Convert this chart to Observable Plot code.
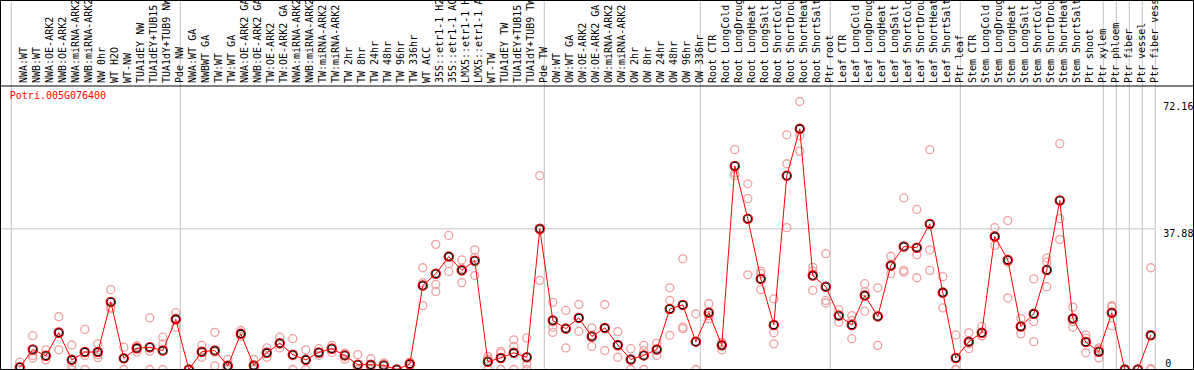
<!DOCTYPE html>
<html>
<head>
<meta charset="utf-8">
<script src="https://cdn.jsdelivr.net/npm/d3@7"></script>
<script src="https://cdn.jsdelivr.net/npm/@observablehq/plot@0.6"></script>
<style>
  html, body { margin: 0; padding: 0; background: white; }
  #chart svg { display: block; outline: 1px solid black; outline-offset: -1px; overflow: hidden; }
</style>
</head>
<body>
<div id="chart"></div>
<script>
const title = "Potri.005G076400";

const labels = [
  "NWA:WT","NWB:WT","NWA:OE-ARK2","NWB:OE-ARK2","NWA:miRNA-ARK2","NWB:miRNA-ARK2","NW 0hr","WT H2O","WT-NW","TUA1dEY NW","TUA1dEY+TUB15","TUA1dY+TUB9 NW","Pde NW",
  "NWA:WT GA","NWBWT GA","TW:WT","TW:WT GA","NWA:OE-ARK2 GA","NWB:OE-ARK2 GA","TW:OE-ARK2","TW:OE-ARK2 GA","NWA:miRNA-ARK2","NWB:miRNA-ARK2","TW:miRNA-ARK2","TW:miRNA-ARK2",
  "TW 2hr","TW 8hr","TW 24hr","TW 48hr","TW 96hr","TW 336hr","WT ACC","35S::etr1-1 H2","35S::etr1-1 AC","LMX5::etr1-1 H","LMX5::etr1-1 A","WT-TW","TUA1dEY TW","TUA1dEY+TUB15","TUA1dY+TUB9 TW","Pde TW",
  "OW:WT","OW:WT GA","OW:OE-ARK2","OW:OE-ARK2 GA","OW:miRNA-ARK2","OW:miRNA-ARK2","OW 2hr","OW 8hr","OW 24hr","OW 48hr","OW 96hr","OW 336hr",
  "Root CTR","Root LongCold","Root LongDroug","Root LongHeat","Root LongSalt","Root ShortCold","Root ShortDrou","Root ShortHeat","Root ShortSalt","Ptr root",
  "Leaf CTR","Leaf LongCold","Leaf LongDroug","Leaf LongHeat","Leaf LongSalt","Leaf ShortCold","Leaf ShortDrou","Leaf ShortHeat","Leaf ShortSalt","Ptr leaf",
  "Stem CTR","Stem LongCold","Stem LongDroug","Stem LongHeat","Stem LongSalt","Stem ShortCold","Stem ShortDrou","Stem ShortHeat","Stem ShortSalt","Ptr shoot","Ptr xylem",
  "Ptr phloem","Ptr fiber","Ptr vessel","Ptr fiber vess"
];

const means = [
  0.6,5.4,3.7,9.9,2.6,4.7,4.7,18.2,3.0,5.7,6.0,5.1,13.5,
  0,4.8,5.1,1.0,9.6,1.1,4.5,7.1,4.0,2.6,4.6,5.6,
  3.8,1.3,1.3,1.1,0,1.5,22.6,25.8,30.4,26.7,29.3,2.1,3.1,4.5,3.3,37.9,
  13.2,11.0,13.9,8.9,11.2,6.6,2.7,3.8,5.4,16.3,17.4,7.5,
  15.3,6.5,54.8,40.6,24.4,12.0,52.2,64.8,25.3,22.3,
  14.5,12.0,19.9,14.3,28.0,33.1,32.8,39.2,20.7,3.1,
  7.5,9.9,35.8,29.5,11.6,15.0,26.8,45.5,13.7,7.4,4.8,
  15.3,0,0,9.2
];

const rep1 = [
  2.0,9.1,5.3,14.2,6.6,10.8,6.9,21.5,6.0,6.4,13.9,8.7,15.3,
  0,6.5,10.0,2.7,10.5,2.7,5.8,8.7,8.3,5.3,5.6,6.5,
  4.4,4.0,2.9,1.8,0,2.0,27.4,33.7,36.1,29.5,32.2,3.5,4.9,8.0,8.5,52.2,
  18.1,15.9,17.5,11.2,17.5,10.2,5.6,6.5,7.1,22.0,29.8,15.0,
  17.7,7.3,59.2,50.0,26.5,19.0,63.2,72.16,27.5,31.2,
  16.1,14.5,23.1,22.0,30.5,46.2,43.1,59.2,25.0,9.3,
  9.9,11.6,38.2,40.1,13.7,24.4,30.0,60.8,16.8,9.3,5.8,
  17.2,0,0,27.4
];
const rep2 = [
  0,3.8,3.8,10.2,1.1,3.8,4.0,16.8,3.0,6.0,4.9,6.9,13.8,
  0,4.6,4.7,0.3,9.4,0.6,4.4,6.8,3.7,2.5,4.5,5.8,
  4.2,0,1.0,1.5,0,1.5,23.3,22.9,28.5,27.2,30.2,2.8,4.4,6.2,1.5,37.5,
  11.4,11.3,13.9,9.3,11.0,6.3,2.5,5.1,5.3,18.6,11.4,7.5,
  14.5,6.9,52.9,46.0,25.8,9.9,55.4,63.0,26.5,18.6,
  14.7,13.2,20.9,14.4,27.7,26.7,30.9,32.2,20.5,0,
  7.0,9.1,35.8,28.9,11.5,12.9,28.9,40.6,12.9,8.4,5.5,
  16.9,0,0,0.2
];
const rep3 = [
  0,3.1,2.6,5.3,0,0,3.2,16.3,0,4.7,0,0,11.4,
  0,3.3,1.0,0,8.9,0,3.3,5.8,0,0,3.8,4.6,
  2.8,0,0,0,0,1.0,17.2,21.0,26.4,23.4,25.3,0,0,0,0,24.0,
  10.0,5.8,10.3,6.2,5.1,3.3,0,0,3.8,9.2,11.0,0,
  13.7,5.3,52.2,25.5,21.5,6.9,38.2,58.8,21.3,17.9,
  12.7,8.3,15.7,6.5,25.8,26.2,24.7,26.7,16.6,0,
  5.6,9.0,33.4,19.3,9.6,7.5,22.3,35.0,11.4,4.5,3.1,
  11.8,0,0,0
];

const groupStarts = [0, 13, 41, 53, 63, 73, 84, 85, 86, 87];
const groupEnds = [87];
const gridValues = [37.88];
const yTickValues = [0, 37.88, 72.16];
const yMax = 76.2;

const W = 1194, H = 370;
const mL = 10.8, mR = 39.2, mT = 86, mB = 1;
const idx = labels.map((_, i) => i);
const repData = idx.flatMap(i => [rep1[i], rep2[i], rep3[i]].map(v => ({i, v})));
const meanData = idx.map(i => ({i, v: means[i]}));
const half = (W - mL - mR) / labels.length / 2;
const shift = 2;

const chart = Plot.plot({
  width: W,
  height: H,
  marginLeft: mL,
  marginRight: mR,
  marginTop: mT,
  marginBottom: mB,
  style: {fontFamily: "'DejaVu Sans Mono', monospace", fontSize: "10px", background: "white", color: "black"},
  x: {type: "band", domain: idx, padding: 0, round: false, axis: null},
  y: {domain: [0, yMax], axis: null},
  marks: [
    Plot.ruleY(gridValues, {y: d => d, stroke: "#c4c4c4", strokeWidth: 1, insetLeft: -mL}),
    Plot.ruleX(groupStarts, {x: d => d, dx: -half, stroke: "#c4c4c4", strokeWidth: 1, insetTop: -mT}),
    Plot.ruleX(groupEnds, {x: d => d, dx: half, stroke: "#c4c4c4", strokeWidth: 1, insetTop: -mT}),
    Plot.frame({anchor: "top", stroke: "black", strokeWidth: 1, insetLeft: -mL, insetRight: -mR, dy: -0.5}),
    Plot.text(idx, {x: d => d, text: d => labels[d], frameAnchor: "top", rotate: -90, textAnchor: "start", dx: shift, dy: -3.5, fill: "black", fontSize: 10}),
    Plot.dot(repData, {x: "i", y: "v", r: 4, stroke: "#f0a0a0", strokeWidth: 1.3, dx: shift}),
    Plot.dot(meanData, {x: "i", y: "v", r: 4.6, stroke: "red", strokeWidth: 1.3, dx: shift}),
    Plot.dot(meanData, {x: "i", y: "v", r: 3.7, stroke: "black", strokeWidth: 1.1, dx: shift}),
    Plot.line(meanData, {x: "i", y: "v", stroke: "red", strokeWidth: 1, dx: shift}),
    Plot.text([title], {frameAnchor: "top-left", textAnchor: "start", lineAnchor: "top", dx: -1.5, dy: 5, fill: "red", fontSize: 10}),
    Plot.text(yTickValues.filter(v => v > 0), {y: d => d, text: d => String(d), frameAnchor: "right", textAnchor: "start", lineAnchor: "top", dx: 8, dy: 1, fill: "black", fontSize: 10}),
    Plot.text(yTickValues.filter(v => v === 0), {y: d => d, text: d => String(d), frameAnchor: "right", textAnchor: "start", lineAnchor: "bottom", dx: 10, dy: -3, fill: "black", fontSize: 10})
  ]
});
document.getElementById("chart").append(chart);
</script>
</body>
</html>
